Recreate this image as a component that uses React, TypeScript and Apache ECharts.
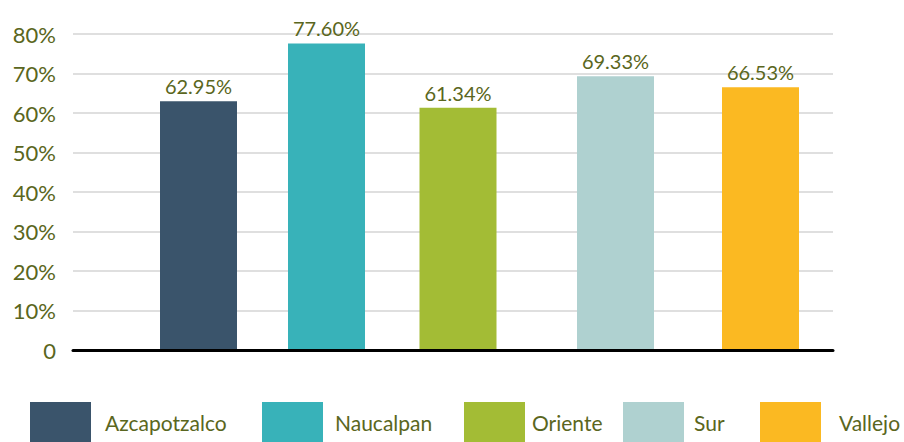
import React, { useEffect, useRef } from "react";
import * as echarts from "echarts";

const categories = ["Azcapotzalco", "Naucalpan", "Oriente", "Sur", "Vallejo"];
const values = [62.95, 77.6, 61.34, 69.33, 66.53];
const yTicks = [0, 10, 20, 30, 40, 50, 60, 70, 80];

// layout (not data): bar centre slots on a hidden 0..760 axis, legend placement
const barSlots = [125.5, 253.5, 385, 542.5, 687.5];
const legendLeft = [30, 262, 464, 623, 760];
const legendTextPad = [9, 7, 2, 5, 13];
const colors = ["#3a546b", "#38b2b9", "#a3bc35", "#afd1d0", "#fbb922"];
const textColor = "#5a6620";
const font = "Lato, 'Open Sans', sans-serif";

export default function App() {
  const ref = useRef<HTMLDivElement>(null);
  useEffect(() => {
    document.body.style.margin = "0";
    if (!ref.current) return;
    const chart = echarts.init(ref.current, null, { renderer: "svg" });
    const series = categories.map((name, i) => ({
      type: "bar",
      name,
      data: [[barSlots[i], values[i]]],
      barWidth: 77,
      barGap: "-100%",
      itemStyle: { color: colors[i] },
      label: {
        show: true,
        position: "top",
        distance: 5,
        color: textColor,
        fontFamily: font,
        fontSize: 20,
        formatter: (p: any) => p.value[1].toFixed(2) + "%",
      },
    }));
    const legends = categories.map((name, i) => ({
      data: [name],
      left: legendLeft[i],
      top: 402,
      padding: 0,
      itemWidth: 61,
      itemHeight: 40,
      icon: "rect",
      selectedMode: false,
      textStyle: {
        color: textColor,
        fontFamily: font,
        fontSize: 21,
        padding: [0, 0, 0, legendTextPad[i]],
      },
    }));
    chart.setOption({
      animation: false,
      textStyle: { fontFamily: font },
      grid: { left: 73, right: 71, top: 34, bottom: 92, containLabel: false },
      xAxis: {
        type: "value",
        min: 0,
        max: 760,
        z: 3,
        axisLine: { show: true, lineStyle: { color: "#000", width: 3 } },
        axisTick: { show: false },
        axisLabel: { show: false },
        splitLine: { show: false },
      },
      yAxis: {
        type: "value",
        min: yTicks[0],
        max: yTicks[yTicks.length - 1],
        interval: 10,
        axisLine: { show: false },
        axisTick: { show: false },
        splitLine: { lineStyle: { color: "#d4d4d4", width: 1.5 } },
        axisLabel: {
          color: textColor,
          fontFamily: font,
          fontSize: 22,
          margin: 17,
          padding: [0, 0, 6, 0],
          formatter: (v: number) => (v === 0 ? "0" : v + "%"),
        },
      },
      legend: legends,
      series,
    });
    return () => chart.dispose();
  }, []);
  return <div ref={ref} style={{ width: 904, height: 442 }} />;
}
